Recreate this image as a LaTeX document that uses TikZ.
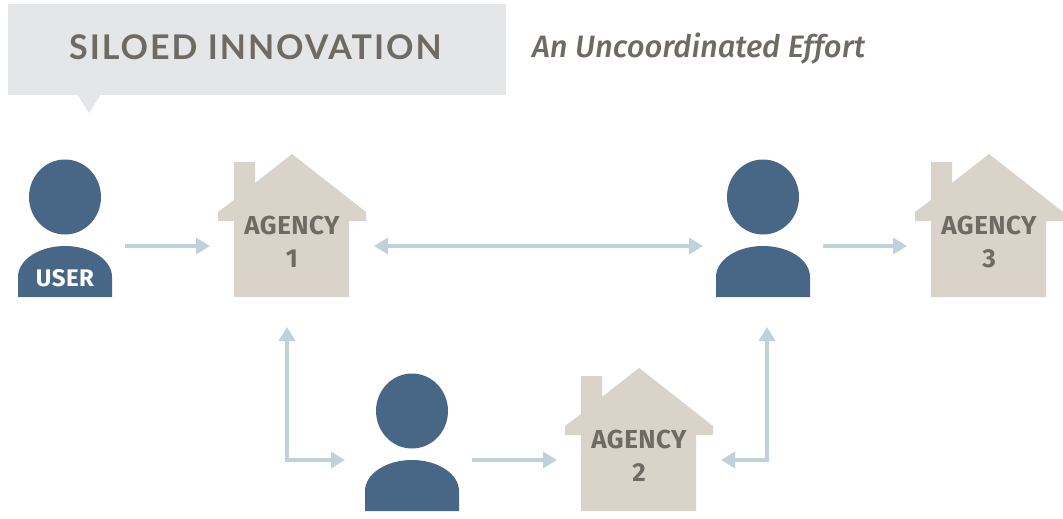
\documentclass[tikz,border=0pt]{standalone}
\usepackage{fontspec}
\usepackage{xcolor}
\setmainfont{Fira Sans}
\newfontfamily\titlefont[LetterSpace=5.8]{Lato}
\newfontfamily\tagfont[LetterSpace=2]{Fira Sans}
\newfontfamily\subfont{Fira Sans Medium}
\usetikzlibrary{arrows.meta}
\definecolor{banner}{HTML}{E4E6E8}
\definecolor{inkgrey}{HTML}{6F6A63}
\definecolor{personblue}{HTML}{486786}
\definecolor{housetan}{HTML}{D9D3C9}
\definecolor{linkblue}{HTML}{BFD2DA}
\tikzset{
  slot/.style={inner sep=0pt, outer sep=0pt, minimum height=162pt},
  personslot/.style={slot, minimum width=120pt},
  houseslot/.style={slot, minimum width=164pt},
  agencytext/.style={text=inkgrey, font=\tagfont\bfseries\fontsize{26}{33}\selectfont, align=center, inner sep=0pt},
  link/.style={draw=linkblue, line width=3.5pt, -{Triangle[length=14pt,width=16pt]}},
  twolink/.style={link, {Triangle[length=14pt,width=16pt]}-{Triangle[length=14pt,width=16pt]}}
}
\newcommand{\person}[3]{
  \node[personslot] (#1) at (#2,#3) {};
  \fill[personblue,shift={(#2,#3)}] (0,-49) ellipse [x radius=36, y radius=37.5];
  \fill[personblue,shift={(#2,#3)}] (-47,51) -- (-47,31) arc [start angle=180, end angle=360, x radius=47, y radius=31] -- (47,51) -- cycle;
}
\newcommand{\agency}[4]{
  \node[houseslot] (#1) at (#2,#3) {};
  \fill[housetan,shift={(#2,#3)}] (0,-92) -- (74,-34) -- (74,-25) -- (57,-25) -- (57,51) -- (-58,51) -- (-58,-25)
    -- (-74,-25) -- (-74,-34) -- (-58,-46) -- (-58,-84) -- (-37,-84) -- (-37,-63) -- cycle;
  \node[agencytext] (#1 text) at (#2,#3-4.5) {AGENCY\\#4};
}

\begin{document}
\begin{tikzpicture}[x=1pt,y=-1pt]
\useasboundingbox (0,0) rectangle (1063,519);

% heading
\fill[banner] (8,4) rectangle (506,95);
\fill[banner] (77,94) -- (89,113) -- (101,94) -- cycle;
\node[text=inkgrey, font=\titlefont\bfseries\fontsize{34}{34}\selectfont, anchor=west, inner sep=0pt] (heading) at (69,47) {SILOED INNOVATION};
\node[text=inkgrey, font=\subfont\itshape\fontsize{30.9}{30.9}\selectfont, anchor=west, inner sep=0pt] (subheading) at (532,49) {An Uncoordinated Effort};

% people and agencies
\person{user}{65}{246}
\node[text=white, font=\tagfont\bfseries\fontsize{24}{24}\selectfont, inner sep=0pt] (user text) at (65,278) {USER};
\agency{agency1}{292}{246}{1}
\person{second}{763}{246}
\agency{agency3}{989}{246}{3}
\person{third}{412}{460}
\agency{agency2}{639}{460}{2}

% connections
\draw[link] (user) -- (agency1);
\draw[twolink] (agency1) -- (second);
\draw[link] (second) -- (agency3);
\draw[twolink] ([xshift=-5pt]agency1.south) |- ([xshift=-7pt]third.west);
\draw[link] (third) -- (agency2);
\draw[twolink] ([xshift=4pt]second.south) |- (agency2);
\end{tikzpicture}
\end{document}
